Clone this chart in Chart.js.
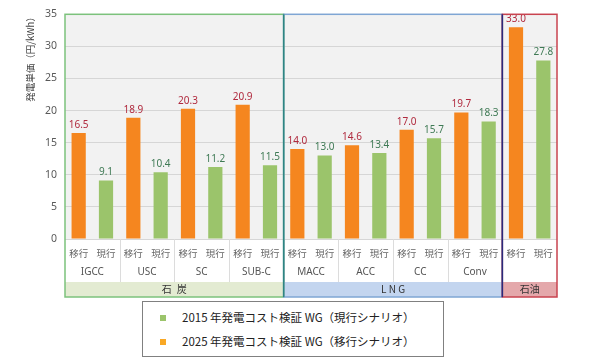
<!DOCTYPE html>
<html>
<head>
<meta charset="utf-8">
<script src="https://cdn.jsdelivr.net/npm/chart.js@4/dist/chart.umd.min.js"></script>
<style>
  html, body { margin: 0; padding: 0; background: #fff; }
  #wrap { position: relative; width: 590px; height: 361px; }
  #legend {
    position: absolute; left: 142px; top: 301px; width: 300px; height: 54px;
    border: 1px solid #808080; background: #fff;
    font-family: "Noto Sans CJK JP", "Noto Sans", sans-serif; font-size: 11.5px; color: #222;
  }
  #legend .item { position: absolute; left: 17px; height: 16px; line-height: 16px; white-space: nowrap; }
  #legend .sw { display: inline-block; width: 6px; height: 6px; margin-right: 16px; vertical-align: 1px; }
</style>
</head>
<body>
<div id="wrap">
  <canvas id="chart" width="590" height="361"></canvas>
  <div id="legend"></div>
</div>
<script>
// 発電方式（サブカテゴリ）
const plants = ['IGCC', 'USC', 'SC', 'SUB-C', 'MACC', 'ACC', 'CC', 'Conv', ''];
// 燃料グループとその方式数
const fuelGroups = ['石\u2002炭', 'L N G', '石油'];
const fuelGroupSizes = [4, 4, 1];
// 棒ごとの区分ラベル
const barTags = ['移行', '現行'];

// 2025 年発電コスト検証 WG（移行シナリオ）
const shift2025 = [16.5, 18.9, 20.3, 20.9, 14.0, 14.6, 17.0, 19.7, 33.0];
// 2015 年発電コスト検証 WG（現行シナリオ）
const current2015 = [9.1, 10.4, 11.2, 11.5, 13.0, 13.4, 15.7, 18.3, 27.8];

const yTicks = [0, 5, 10, 15, 20, 25, 30, 35];
const yTitle = '発電単価（円/kWh）';
const legendLabels = ['2015 年発電コスト検証 WG（現行シナリオ）', '2025 年発電コスト検証 WG（移行シナリオ）'];

const ORANGE = '#f5861f';
const GREEN = '#9bc46b';
const bandStyles = [
  { fill: '#e3ebd2', border: '#7cc27c' },
  { fill: '#c3d5ef', border: '#7fa6d4' },
  { fill: '#e4a8ab', border: '#c9434f' }
];

// legend (html)
const legendEl = document.getElementById('legend');
[[GREEN, legendLabels[0], 7], [ '#f9a825', legendLabels[1], 31]].forEach(([c, t, top]) => {
  const d = document.createElement('div');
  d.className = 'item';
  d.style.top = top + 'px';
  d.innerHTML = '<span class="sw" style="background:' + c + '"></span>' + t;
  legendEl.appendChild(d);
});

const FONT = '"Noto Sans", "Noto Sans CJK JP", sans-serif';

const decorPlugin = {
  id: 'decor',
  beforeDraw(chart) {
    const { ctx, chartArea: a } = chart;
    ctx.save();
    ctx.fillStyle = '#ffffff';
    ctx.fillRect(0, 0, chart.width, chart.height);
    ctx.fillStyle = '#f2f2f2';
    ctx.fillRect(a.left, a.top, a.right - a.left, a.bottom - a.top);
    ctx.restore();
  },
  afterDatasetsDraw(chart) {
    const { ctx, chartArea: a, scales } = chart;
    const x = scales.x;
    const step = (x.right - x.left) / plants.length;
    const bandTop = a.bottom + 43, bandBottom = a.bottom + 58;
    ctx.save();

    // value labels
    ctx.font = '10px ' + FONT;
    ctx.textAlign = 'center';
    ctx.textBaseline = 'middle';
    [[0, '#b02a3e'], [1, '#3f7a55']].forEach(([di, col]) => {
      const meta = chart.getDatasetMeta(di);
      ctx.fillStyle = col;
      meta.data.forEach((bar, i) => {
        const v = chart.data.datasets[di].data[i];
        ctx.fillText(v.toFixed(1), bar.x, bar.y - 8);
      });
    });

    // 移行 / 現行 labels
    ctx.font = '9.5px "Noto Sans CJK JP", sans-serif';
    ctx.fillStyle = '#666';
    [0, 1].forEach(di => {
      chart.getDatasetMeta(di).data.forEach(bar => {
        ctx.fillText(barTags[di], bar.x, a.bottom + 14);
      });
    });

    // separators between plants in label area
    ctx.strokeStyle = '#dcdcdc';
    ctx.lineWidth = 1;
    for (let i = 1; i < plants.length; i++) {
      const px = Math.round(x.left + step * i) + 0.5;
      ctx.beginPath();
      ctx.moveTo(px, a.bottom);
      ctx.lineTo(px, bandTop);
      ctx.stroke();
    }

    // fuel bands and boxes
    let start = 0;
    const edges = [];
    fuelGroups.forEach((name, g) => {
      const l = x.left + step * start;
      const r = x.left + step * (start + fuelGroupSizes[g]);
      edges.push([l, r]);
      ctx.fillStyle = bandStyles[g].fill;
      ctx.fillRect(l, bandTop, r - l, bandBottom - bandTop);
      ctx.fillStyle = '#333';
      ctx.font = '10px "Noto Sans CJK JP", sans-serif';
      ctx.fillText(name, (l + r) / 2, (bandTop + bandBottom) / 2);
      start += fuelGroupSizes[g];
    });
    ctx.lineWidth = 1.5;
    edges.forEach(([l, r], g) => {
      ctx.strokeStyle = bandStyles[g].border;
      ctx.strokeRect(l, a.top, r - l, bandBottom - a.top);
    });
    // shared edges
    ctx.strokeStyle = '#2e8583';
    ctx.beginPath();
    ctx.moveTo(edges[1][0], a.top);
    ctx.lineTo(edges[1][0], bandBottom);
    ctx.stroke();
    ctx.strokeStyle = '#2b2a7c';
    ctx.beginPath();
    ctx.moveTo(edges[2][0], a.top);
    ctx.lineTo(edges[2][0], bandBottom);
    ctx.stroke();

    // y title
    ctx.save();
    ctx.translate(30, 57);
    ctx.rotate(-Math.PI / 2);
    ctx.fillStyle = '#444';
    ctx.font = '9.5px "Noto Sans CJK JP", sans-serif';
    ctx.fillText(yTitle, 0, 0);
    ctx.restore();

    ctx.restore();
  }
};

new Chart(document.getElementById('chart'), {
  type: 'bar',
  data: {
    labels: plants,
    datasets: [
      {
        label: legendLabels[1],
        data: shift2025,
        backgroundColor: ORANGE,
        categoryPercentage: 1,
        barPercentage: 0.52
      },
      {
        label: legendLabels[0],
        data: current2015,
        backgroundColor: GREEN,
        categoryPercentage: 1,
        barPercentage: 0.52
      }
    ]
  },
  options: {
    responsive: false,
    animation: false,
    events: [],
    layout: { padding: { top: 8, right: 33, left: 0, bottom: 0 } },
    plugins: {
      legend: { display: false },
      tooltip: { enabled: false }
    },
    scales: {
      x: {
        grid: { display: false, drawTicks: false },
        border: { display: false },
        ticks: {
          padding: 27,
          color: '#555',
          font: { family: FONT, size: 10 },
          maxRotation: 0,
          autoSkip: false
        },
        afterFit(scale) { scale.height = 122; }
      },
      y: {
        min: 0,
        max: 35,
        afterBuildTicks(scale) { scale.ticks = yTicks.map(v => ({ value: v })); },
        grid: { color: '#d6d6d6', drawTicks: false },
        border: { display: false },
        ticks: {
          padding: 8,
          color: '#595959',
          font: { family: FONT, size: 10.5 }
        },
        afterFit(scale) { scale.width = 65; }
      }
    }
  },
  plugins: [decorPlugin]
});
</script>
</body>
</html>
